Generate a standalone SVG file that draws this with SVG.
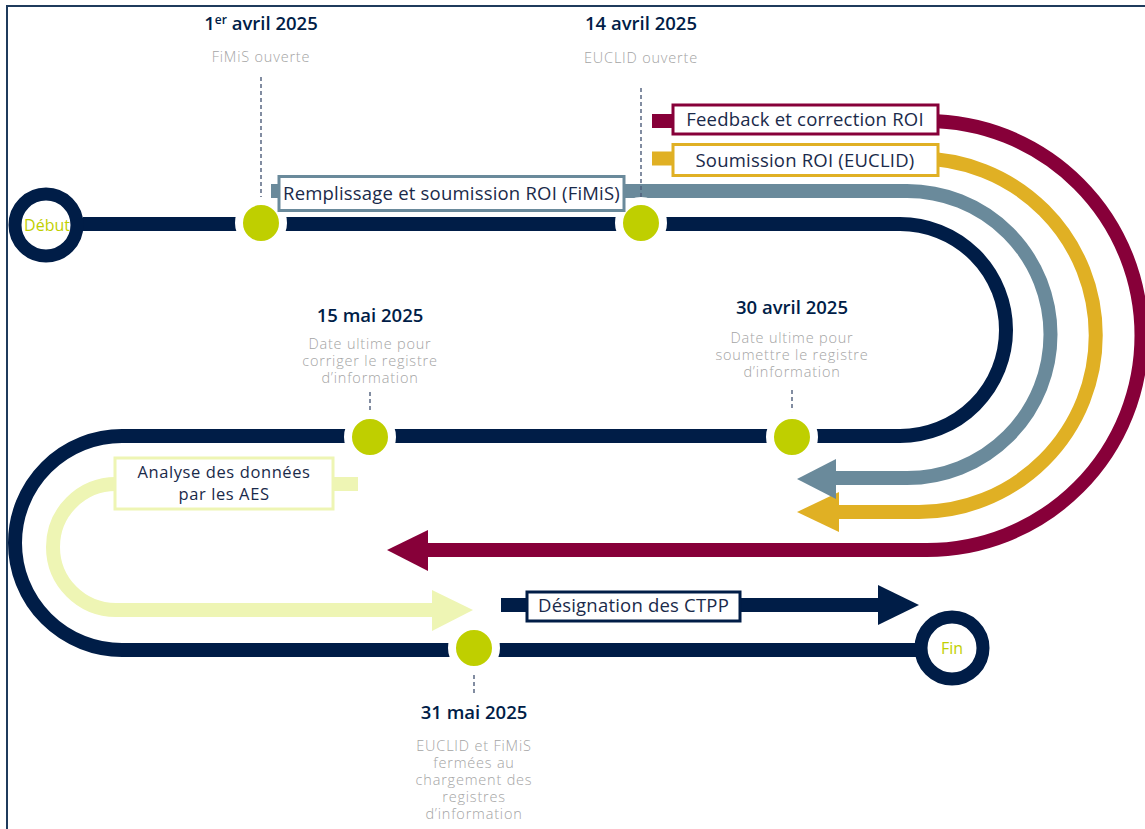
<svg xmlns="http://www.w3.org/2000/svg" width="1145" height="829" viewBox="0 0 1145 829">
<style>
.trk{fill:none;stroke-width:14}
.navy{stroke:#001d47}
.steel{stroke:#6a8a9b}
.gold{stroke:#e0b024}
.maroon{stroke:#870039}
.pale{stroke:#eef5b4}
.ms{fill:#bfcf00;stroke:#fff;stroke-width:8}
.dash{stroke:#4d5d7a;stroke-width:1.4;stroke-dasharray:4 3;fill:none}
.date{font-family:"Open Sans","Liberation Sans",sans-serif;font-weight:600;font-size:18.5px;fill:#001d47;text-anchor:middle}
.desc{font-family:"Open Sans","Liberation Sans",sans-serif;font-weight:300;font-size:14.5px;letter-spacing:0.8px;fill:#a4a4a4;text-anchor:middle}
.lbl{font-family:"Open Sans","Liberation Sans",sans-serif;font-size:18.5px;letter-spacing:0.2px;fill:#1a2a4a;text-anchor:middle}
.lbl2{font-family:"Open Sans","Liberation Sans",sans-serif;font-size:16.5px;letter-spacing:0.6px;fill:#1a2a4a;text-anchor:middle}
.box{fill:#fff;stroke-width:3}
.ring{fill:#fff;stroke:#001d47;stroke-width:13}
.ringtxt{font-family:"Open Sans","Liberation Sans",sans-serif;font-size:16px;fill:#bfcf00;text-anchor:middle}
</style>
<rect width="1145" height="829" fill="#fff"/>
<path d="M7 829 V6 H1145" fill="none" stroke="#1f3b5c" stroke-width="2"/>

<g id="connectors">
  <path class="trk maroon" d="M652 121 H927 A214.5 214.5 0 0 1 927 550 H426"/>
  <polygon fill="#870039" points="428,530 387,550 428,571"/>
  <path class="trk gold" d="M652 158.5 H919 A176.75 176.75 0 0 1 919 512 H836"/>
  <polygon fill="#e0b024" points="839,492 797,512 839,532"/>
  <path class="trk steel" d="M271 191 H907 A143.5 143.5 0 0 1 907 478 H834" />
  <polygon fill="#6a8a9b" points="836,459 797,479 836,499"/>
  <path class="trk navy" d="M83 224 H900 A106 106 0 0 1 900 436 H122 A107 107 0 0 0 122 650 H921"/>
  <path class="trk pale" d="M358 484 H116 A63 63 0 0 0 116 610 H434"/>
  <polygon fill="#eef5b4" points="432,590 473,610 432,631"/>
  <path class="trk navy" d="M501 605 H880"/>
  <polygon fill="#001d47" points="878,585 919,605 878,625"/>
</g>

<g id="debut">
  <circle class="ring" cx="46" cy="225" r="31"/>
  <text class="ringtxt" x="47" y="231">Début</text>
</g>
<g id="fin">
  <circle class="ring" cx="952" cy="648" r="31"/>
  <text class="ringtxt" x="952" y="654">Fin</text>
</g>

<g id="m-1avril">
  <line class="dash" x1="261" y1="77" x2="261" y2="197"/>
  <circle class="ms" cx="261" cy="223" r="22"/>
  <text class="date" x="261" y="30">1<tspan font-size="12" dy="-6">er</tspan><tspan dy="6"> avril 2025</tspan></text>
  <text class="desc" x="261" y="62">FiMiS ouverte</text>
</g>
<g id="m-14avril">
  <line class="dash" x1="641" y1="88" x2="641" y2="200"/>
  <circle class="ms" cx="641" cy="223" r="22"/>
  <text class="date" x="641" y="30">14 avril 2025</text>
  <text class="desc" x="641" y="63">EUCLID ouverte</text>
</g>
<g id="m-15mai">
  <line class="dash" x1="370" y1="392" x2="370" y2="412"/>
  <circle class="ms" cx="370" cy="437" r="22"/>
  <text class="date" x="370" y="322">15 mai 2025</text>
  <text class="desc" x="370" y="349">Date ultime pour</text>
  <text class="desc" x="370" y="366">corriger le registre</text>
  <text class="desc" x="370" y="383">d’information</text>
</g>
<g id="m-30avril">
  <line class="dash" x1="792" y1="390" x2="792" y2="412"/>
  <circle class="ms" cx="792" cy="437" r="22"/>
  <text class="date" x="792" y="314">30 avril 2025</text>
  <text class="desc" x="792" y="343">Date ultime pour</text>
  <text class="desc" x="792" y="360">soumettre le registre</text>
  <text class="desc" x="792" y="377">d’information</text>
</g>
<g id="m-31mai">
  <line class="dash" x1="474" y1="675" x2="474" y2="695"/>
  <circle class="ms" cx="474" cy="648" r="22"/>
  <text class="date" x="474" y="719">31 mai 2025</text>
  <text class="desc" x="474" y="751">EUCLID et FiMiS</text>
  <text class="desc" x="474" y="768">fermées au</text>
  <text class="desc" x="474" y="785">chargement des</text>
  <text class="desc" x="474" y="802">registres</text>
  <text class="desc" x="474" y="819">d’information</text>
</g>

<g id="box-fimis">
  <rect class="box" x="279" y="176.5" width="345" height="34" stroke="#6a8a9b"/>
  <text class="lbl" x="451.5" y="200">Remplissage et soumission ROI (FiMiS)</text>
</g>
<g id="box-feedback">
  <rect class="box" x="673" y="105" width="265" height="29" stroke="#870039"/>
  <text class="lbl" x="805" y="126">Feedback et correction ROI</text>
</g>
<g id="box-euclid">
  <rect class="box" x="673" y="144.5" width="265" height="31" stroke="#e0b024"/>
  <text class="lbl" x="805" y="167">Soumission ROI (EUCLID)</text>
</g>
<g id="box-aes">
  <rect class="box" x="115" y="458" width="218" height="51" stroke="#eef5b4"/>
  <text class="lbl2" x="224" y="478">Analyse des données</text>
  <text class="lbl2" x="224" y="500">par les AES</text>
</g>
<g id="box-ctpp">
  <rect class="box" x="527" y="592" width="213" height="29" stroke="#001d47"/>
  <text class="lbl" x="633.5" y="612">Désignation des CTPP</text>
</g>
</svg>
